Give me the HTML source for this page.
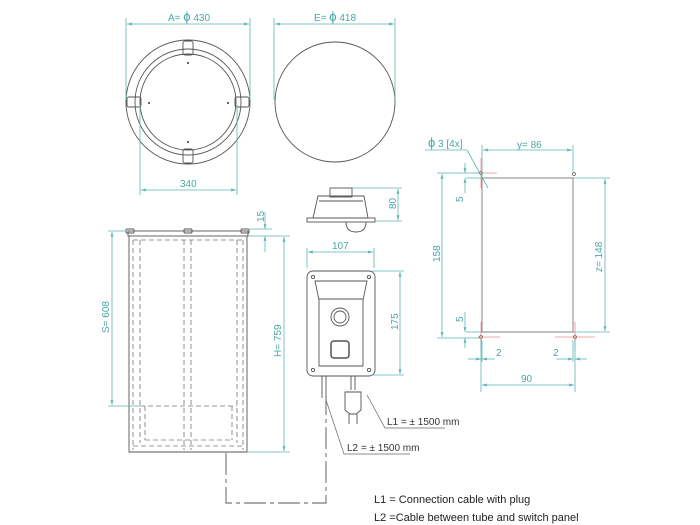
<!DOCTYPE html>
<html><head><meta charset="utf-8"><style>
html,body{margin:0;padding:0;background:#fff}
svg{display:block}
text{font-family:"Liberation Sans",sans-serif}
.d{stroke:#5bb5b5;stroke-width:0.8;fill:none}
.t{fill:#4aa5a5;font-size:10px}
.o{stroke:#555;stroke-width:0.9;fill:none}
.h{stroke:#777;stroke-width:0.8;fill:none;stroke-dasharray:5,3}
.r{stroke:#f08a8a;stroke-width:0.8}
</style></head><body>
<svg width="700" height="525" viewBox="0 0 700 525" xmlns="http://www.w3.org/2000/svg">
<defs>
<marker id="a" viewBox="0 0 10 10" refX="10" refY="5" markerWidth="6" markerHeight="6" orient="auto-start-reverse"><path d="M0,2 L10,5 L0,8z" fill="#5bb5b5"/></marker>
</defs>
<!-- top left circle -->
<g class="o">
<circle cx="188" cy="102" r="62"/>
<circle cx="188" cy="102" r="53"/>
<circle cx="188" cy="102" r="48"/>
<rect x="183" y="41" width="10" height="14" rx="2"/>
<rect x="183" y="149" width="10" height="14" rx="2"/>
<rect x="127" y="97" width="14" height="10" rx="2"/>
<rect x="235" y="97" width="14" height="10" rx="2"/>
</g>
<g fill="#333"><circle cx="188" cy="63" r="1"/><circle cx="188" cy="142" r="1"/><circle cx="149" cy="103" r="1"/><circle cx="228" cy="103" r="1"/></g>
<line class="d" x1="127" y1="24" x2="249" y2="24" marker-start="url(#a)" marker-end="url(#a)"/>
<line class="d" x1="126" y1="18" x2="126" y2="100"/><line class="d" x1="250" y1="18" x2="250" y2="100"/>
<text class="t" x="168" y="21">A= <tspan font-size="13">ϕ</tspan> 430</text>
<line class="d" x1="141" y1="190" x2="236" y2="190" marker-start="url(#a)" marker-end="url(#a)"/>
<line class="d" x1="140" y1="105" x2="140" y2="195"/><line class="d" x1="237" y1="105" x2="237" y2="195"/>
<text class="t" x="180" y="187">340</text>
<!-- top right circle -->
<circle class="o" cx="335" cy="102" r="60"/>
<line class="d" x1="275" y1="24" x2="394" y2="24" marker-start="url(#a)" marker-end="url(#a)"/>
<line class="d" x1="274" y1="18" x2="274" y2="100"/><line class="d" x1="395" y1="18" x2="395" y2="100"/>
<text class="t" x="314" y="21">E= <tspan font-size="13">ϕ</tspan> 418</text>
<!-- switch top view -->
<g class="o">
<rect x="330" y="188" width="22" height="9"/>
<path d="M318,196 L364,196 L368,218 L313,218 Z"/>
<line x1="319" y1="201" x2="363" y2="201"/>
<rect x="307" y="218" width="68" height="4"/>
<path d="M346,222 Q346,232 356,232 Q366,232 366,222"/>
</g>
<line class="d" x1="352" y1="188" x2="402" y2="188"/><line class="d" x1="375" y1="221" x2="402" y2="221"/>
<line class="d" x1="398" y1="189" x2="398" y2="220" marker-start="url(#a)" marker-end="url(#a)"/>
<text class="t" transform="translate(396,209) rotate(-90)">80</text>
<!-- tube -->
<g class="o">
<rect x="128" y="231" width="120" height="5"/>
<path d="M129,236 L129,452 L247,452 L247,236"/>
<rect x="126" y="229" width="8" height="4" rx="1"/>
<rect x="184" y="229" width="8" height="4" rx="1"/>
<rect x="241" y="229" width="8" height="4" rx="1"/>
</g>
<g class="h">
<line x1="133" y1="240" x2="133" y2="450"/><line x1="140" y1="240" x2="140" y2="443"/>
<line x1="237" y1="240" x2="237" y2="443"/><line x1="243" y1="240" x2="243" y2="450"/>
<line x1="184" y1="240" x2="184" y2="450"/><line x1="191" y1="240" x2="191" y2="450"/>
<line x1="133" y1="240" x2="243" y2="240"/>
<line x1="140" y1="406" x2="237" y2="406"/>
<line x1="145" y1="440" x2="232" y2="440"/>
<line x1="133" y1="446" x2="243" y2="446"/>
<line x1="145" y1="406" x2="145" y2="440"/><line x1="232" y1="406" x2="232" y2="440"/>
</g>
<!-- tube dims -->
<line class="d" x1="248" y1="229" x2="272" y2="229"/><line class="d" x1="248" y1="236" x2="290" y2="236"/>
<line class="d" x1="265" y1="212" x2="265" y2="229" marker-end="url(#a)"/>
<line class="d" x1="265" y1="252" x2="265" y2="236" marker-end="url(#a)"/>
<text class="t" transform="translate(264,222) rotate(-90)">15</text>
<line class="d" x1="108" y1="231" x2="128" y2="231"/><line class="d" x1="108" y1="406" x2="140" y2="406"/>
<line class="d" x1="112" y1="232" x2="112" y2="405" marker-start="url(#a)" marker-end="url(#a)"/>
<text class="t" transform="translate(109,333) rotate(-90)">S= 608</text>
<line class="d" x1="247" y1="452" x2="290" y2="452"/>
<line class="d" x1="284" y1="237" x2="284" y2="451" marker-start="url(#a)" marker-end="url(#a)"/>
<text class="t" transform="translate(281,357) rotate(-90)">H= 759</text>
<!-- cable dashed -->
<path d="M226,453 L226,503 L326,503 L326,395" stroke="#555" stroke-width="0.9" fill="none" stroke-dasharray="22,4,4,4"/>
<!-- switch panel -->
<g class="o">
<rect x="307" y="271" width="68" height="105" rx="6"/>
<path d="M315,281 L367,281 L363,300 L363,366 L319,366 L319,300 Z"/>
<line x1="319" y1="299" x2="363" y2="299"/>
<circle cx="340" cy="317" r="9"/><circle cx="340" cy="317" r="6"/>
<rect x="331" y="341" width="18" height="17" rx="3" stroke-width="1.5"/>
<circle cx="313" cy="277" r="1.6"/><circle cx="369" cy="277" r="1.6"/><circle cx="313" cy="370" r="1.6"/><circle cx="369" cy="370" r="1.6"/>
<line x1="322" y1="376" x2="322" y2="398"/><line x1="326" y1="376" x2="326" y2="398"/>
<line x1="351" y1="376" x2="351" y2="390"/><line x1="355" y1="376" x2="355" y2="390"/>
<path d="M345,392 L361,392 L361,410 L356,414 L350,414 L345,410 Z"/>
<line x1="349" y1="414" x2="349" y2="424"/><line x1="357" y1="414" x2="357" y2="424"/>
</g>
<line class="d" x1="307" y1="268" x2="307" y2="248"/><line class="d" x1="374" y1="268" x2="374" y2="248"/>
<line class="d" x1="308" y1="252" x2="373" y2="252" marker-start="url(#a)" marker-end="url(#a)"/>
<text class="t" x="332" y="249">107</text>
<line class="d" x1="372" y1="271" x2="404" y2="271"/><line class="d" x1="372" y1="375" x2="404" y2="375"/>
<line class="d" x1="400" y1="272" x2="400" y2="374" marker-start="url(#a)" marker-end="url(#a)"/>
<text class="t" transform="translate(398,330) rotate(-90)">175</text>
<!-- leaders -->
<path d="M367,395 L385,428 L445,428" stroke="#666" stroke-width="0.7" fill="none"/>
<path d="M326,400 L344,454 L410,454" stroke="#666" stroke-width="0.7" fill="none"/>
<text x="387" y="425" font-size="10" fill="#333">L1 = ± 1500 mm</text>
<text x="347" y="451" font-size="10" fill="#333">L2 = ± 1500 mm</text>
<!-- cutout drawing -->
<rect x="482" y="178" width="91" height="154" fill="none" stroke="#777" stroke-width="0.9"/>
<g class="r">
<line x1="481" y1="158" x2="481" y2="188"/><line x1="472" y1="173" x2="497" y2="173"/>
<line x1="481" y1="322" x2="481" y2="350"/><line x1="478" y1="337" x2="500" y2="337"/>
<line x1="575" y1="322" x2="575" y2="350"/><line x1="555" y1="337" x2="595" y2="337"/>
</g>
<g fill="none" stroke="#a55" stroke-width="0.8"><circle cx="481" cy="173" r="1.5"/><circle cx="481" cy="337" r="1.5"/><circle cx="575" cy="337" r="1.5"/></g>
<circle cx="574" cy="174" r="1.5" fill="none" stroke="#555" stroke-width="0.7"/>
<line class="d" x1="482" y1="145" x2="482" y2="178"/><line class="d" x1="573" y1="145" x2="573" y2="172"/>
<line class="d" x1="483" y1="150" x2="572" y2="150" marker-start="url(#a)" marker-end="url(#a)"/>
<text class="t" x="517" y="148">y= 86</text>
<line class="d" x1="425" y1="150" x2="467" y2="150"/><line class="d" x1="467" y1="150" x2="488" y2="188"/>
<text class="t" x="428" y="147"><tspan font-size="13">ϕ</tspan> 3 [4x]</text>
<line class="d" x1="437" y1="173" x2="480" y2="173"/><line class="d" x1="437" y1="338" x2="480" y2="338"/>
<line class="d" x1="442" y1="174" x2="442" y2="337" marker-start="url(#a)" marker-end="url(#a)"/>
<text class="t" transform="translate(440,262) rotate(-90)">158</text>
<line class="d" x1="466" y1="178" x2="482" y2="178"/><line class="d" x1="466" y1="332" x2="482" y2="332"/>
<line class="d" x1="465" y1="163" x2="465" y2="173" marker-end="url(#a)"/><line class="d" x1="465" y1="193" x2="465" y2="178" marker-end="url(#a)"/>
<line class="d" x1="465" y1="312" x2="465" y2="332" marker-end="url(#a)"/><line class="d" x1="465" y1="348" x2="465" y2="338" marker-end="url(#a)"/>
<text class="t" transform="translate(463,202) rotate(-90)">5</text>
<text class="t" transform="translate(463,322) rotate(-90)">5</text>
<line class="d" x1="573" y1="178" x2="610" y2="178"/><line class="d" x1="573" y1="332" x2="610" y2="332"/>
<line class="d" x1="605" y1="179" x2="605" y2="331" marker-start="url(#a)" marker-end="url(#a)"/>
<text class="t" transform="translate(602,272) rotate(-90)">z= 148</text>
<line class="d" x1="481" y1="338" x2="481" y2="392"/><line class="d" x1="575" y1="338" x2="575" y2="392"/>
<line class="d" x1="482" y1="340" x2="482" y2="362"/><line class="d" x1="573" y1="340" x2="573" y2="362"/>
<line class="d" x1="468" y1="359" x2="481" y2="359" marker-end="url(#a)"/><line class="d" x1="495" y1="359" x2="482" y2="359" marker-end="url(#a)"/>
<line class="d" x1="556" y1="359" x2="573" y2="359" marker-end="url(#a)"/><line class="d" x1="587" y1="359" x2="575" y2="359" marker-end="url(#a)"/>
<text class="t" x="496" y="356" font-size="11">2</text>
<text class="t" x="553" y="356" font-size="11">2</text>
<line class="d" x1="482" y1="385" x2="574" y2="385" marker-start="url(#a)" marker-end="url(#a)"/>
<text class="t" x="521" y="382">90</text>
<!-- notes -->
<text x="374" y="503" font-size="11" fill="#222">L1 = Connection cable with plug</text>
<text x="374" y="521" font-size="11" fill="#222">L2 =Cable between tube and switch panel</text>
</svg>
</body></html>
